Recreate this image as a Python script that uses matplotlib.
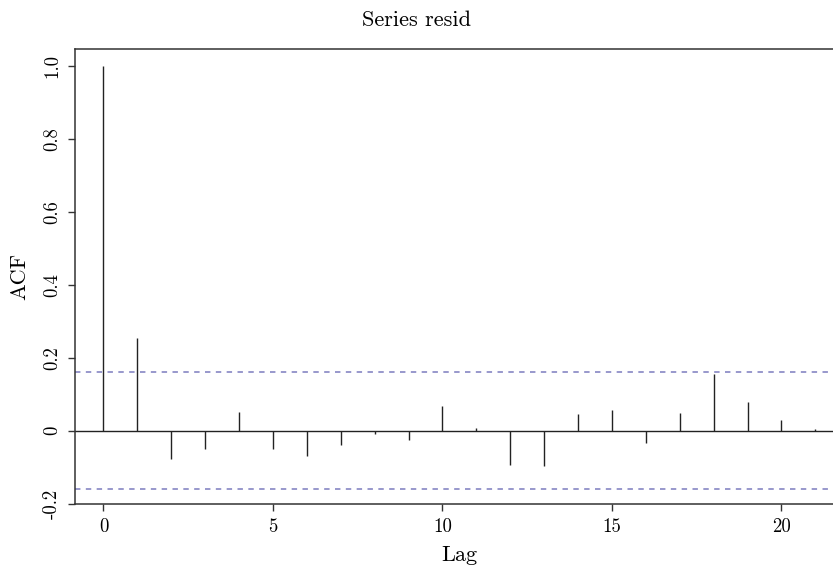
import matplotlib
matplotlib.use('Agg')
import matplotlib.pyplot as plt
import numpy as np

# ACF of residuals
lags = np.arange(0, 22)
acf_vals = [1.0, 0.253, -0.078, -0.050, 0.051, -0.050, -0.070, -0.040,
            -0.008, -0.026, 0.068, 0.008, -0.093, -0.098, 0.046, 0.057,
            -0.035, 0.048, 0.156, 0.079, 0.030, 0.005]
conf = 0.161

xticks = [0, 5, 10, 15, 20]
yticks = [-0.2, 0.0, 0.2, 0.4, 0.6, 0.8, 1.0]
ytick_labels = ['-0.2', '0', '0.2', '0.4', '0.6', '0.8', '1.0']

plt.rcParams['font.family'] = ['cmr10', 'DejaVu Serif']
plt.rcParams['axes.unicode_minus'] = False

fig = plt.figure(figsize=(8.33, 5.71), dpi=100)
ax = fig.add_axes([0.090, 0.1173, 0.923, 0.7964])

ax.vlines(lags, 0, acf_vals, color='#222222', lw=1.0)
ax.axhline(0, color='#222222', lw=1.0)
for c in (conf, -conf):
    ax.axhline(c, color='#9090c8', lw=1.3, linestyle=(0, (3, 3)))

ax.set_xlim(-0.84, 21.84)
ax.set_ylim(-0.201, 1.046)

ax.set_xticks(xticks)
ax.set_xticklabels([str(t) for t in xticks])
ax.set_yticks(yticks)
ax.set_yticklabels(ytick_labels, rotation=90, va='center')
ax.tick_params(direction='out', length=5, width=1.0, labelsize=13.5, pad=5,
               color='#333333')

for s in ax.spines.values():
    s.set_linewidth(1.1)
    s.set_color('#333333')
ax.spines['right'].set_visible(False)

ax.set_xlabel('Lag', fontsize=16, labelpad=7)
ax.set_ylabel('ACF', fontsize=16, labelpad=10)
fig.text(0.5, 0.955, 'Series resid', ha='center', va='baseline', fontsize=16)

fig.savefig('out.png', dpi=100)
